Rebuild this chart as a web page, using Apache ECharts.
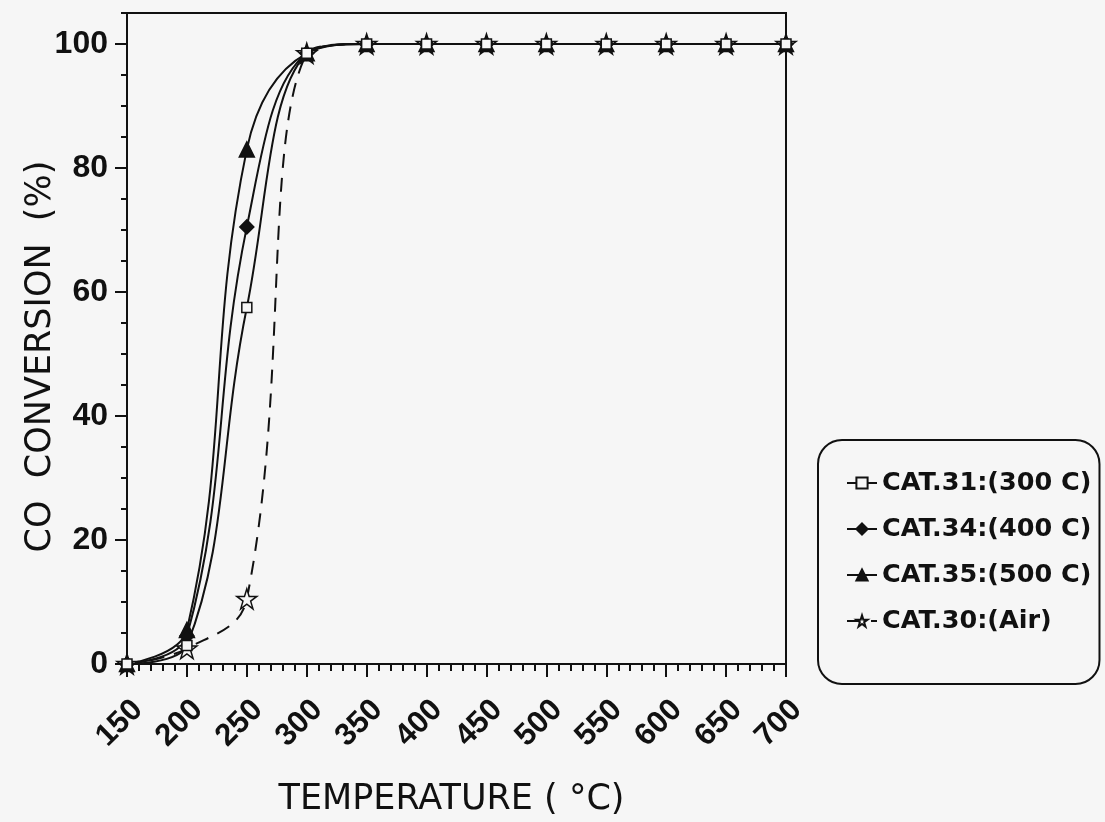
<!DOCTYPE html>
<html>
<head>
<meta charset="utf-8">
<script src="https://cdn.jsdelivr.net/npm/echarts@6/dist/echarts.min.js"></script>
<style>
  html, body { margin: 0; padding: 0; background: #f6f6f6; }
  #chart { width: 1105px; height: 822px; }
</style>
</head>
<body>
<div id="chart"></div>
<script>
  // temperatures (C) where conversion was measured
  var temps = [150, 200, 250, 300, 350, 400, 450, 500, 550, 600, 650, 700];
  // CO conversion (%) for each catalyst
  var cat31 = [0, 3, 57.5, 98.5, 100, 100, 100, 100, 100, 100, 100, 100];
  var cat34 = [0, 4.5, 70.5, 98.5, 100, 100, 100, 100, 100, 100, 100, 100];
  var cat35 = [0, 5.5, 83, 98.5, 100, 100, 100, 100, 100, 100, 100, 100];
  var cat30 = [0, 2.5, 10.5, 98.5, 100, 100, 100, 100, 100, 100, 100, 100];
  var yTicks = [0, 20, 40, 60, 80, 100];
  var names = ['CAT.31:(300 C)', 'CAT.34:(400 C)', 'CAT.35:(500 C)', 'CAT.30:(Air)'];

  var ink = '#111';
  var paper = '#f6f6f6';
  var star = 'path://M50,2 L61,36 L97,36 L68,57 L79,92 L50,71 L21,92 L32,57 L3,36 L39,36 Z';

  function pairs(vals) {
    return temps.map(function (t, i) { return [t, vals[i]]; });
  }

  function makeSeries(name, vals, symbol, size, fill, dashed) {
    return {
      name: name,
      type: 'line',
      smooth: 0.4,
      data: pairs(vals),
      symbol: symbol,
      symbolSize: size,
      showAllSymbol: true,
      itemStyle: { color: fill, borderColor: ink, borderWidth: 1.5 },
      lineStyle: { color: ink, width: 2, type: dashed ? [14, 10] : 'solid' },
      emphasis: { disabled: true }
    };
  }

  var myChart = echarts.init(document.getElementById('chart'));
  var option = {
    backgroundColor: paper,
    animation: false,
    grid: {
      left: 127, right: 319, top: 13, bottom: 157,
      show: true, borderColor: ink, borderWidth: 2
    },
    legend: {
      data: names,
      orient: 'vertical',
      left: 818,
      top: 440,
      padding: [30, 8, 50, 28],
      itemGap: 20,
      itemWidth: 30,
      itemHeight: 14,
      borderColor: ink,
      borderWidth: 2,
      borderRadius: 24,
      textStyle: { fontFamily: 'DejaVu Sans', fontWeight: 'bold', fontSize: 25.5, color: ink }
    },
    xAxis: {
      type: 'value',
      min: 150,
      max: 700,
      interval: 50,
      name: 'TEMPERATURE ( °C)',
      nameLocation: 'middle',
      nameGap: 118,
      nameMoveOverlap: false,
      nameTextStyle: { fontFamily: 'DejaVu Sans', fontSize: 35, color: ink, padding: [0, 10, 0, 0] },
      axisLine: { lineStyle: { color: ink, width: 2 } },
      axisTick: { length: 13, lineStyle: { color: ink, width: 2 } },
      minorTick: { show: true, splitNumber: 5, length: 7, lineStyle: { color: ink, width: 2 } },
      splitLine: { show: false },
      axisLabel: {
        rotate: 45, margin: 30, verticalAlign: 'top', color: ink,
        fontFamily: 'Liberation Sans', fontWeight: 'bold', fontSize: 31
      }
    },
    yAxis: [
      {
        type: 'value',
        position: 'left',
        min: 0,
        max: 105,
        name: 'CO  CONVERSION  (%)',
        nameLocation: 'middle',
        nameGap: 69,
        nameMoveOverlap: false,
        nameRotate: 90,
        nameTextStyle: { fontFamily: 'DejaVu Sans', fontSize: 35, color: ink, padding: [0, 36, 0, 0] },
        axisLine: { lineStyle: { color: ink, width: 2 } },
        axisTick: { length: 12, customValues: yTicks, lineStyle: { color: ink, width: 2 } },
        splitLine: { show: false },
        axisLabel: {
          customValues: yTicks, margin: 19, color: ink,
          fontFamily: 'Liberation Sans', fontWeight: 'bold', fontSize: 32
        }
      },
      {
        type: 'value',
        position: 'left',
        offset: 0,
        min: 0,
        max: 105,
        interval: 5,
        axisLine: { show: false },
        axisTick: { length: 6, lineStyle: { color: ink, width: 2 } },
        axisLabel: { show: false },
        splitLine: { show: false }
      }
    ],
    series: [
      makeSeries(names[3], cat30, star, 20, paper, true),
      makeSeries(names[2], cat35, 'triangle', 15, ink, false),
      makeSeries(names[1], cat34, 'diamond', 14, ink, false),
      makeSeries(names[0], cat31, 'rect', 10, paper, false)
    ]
  };
  myChart.setOption(option);
</script>
</body>
</html>
